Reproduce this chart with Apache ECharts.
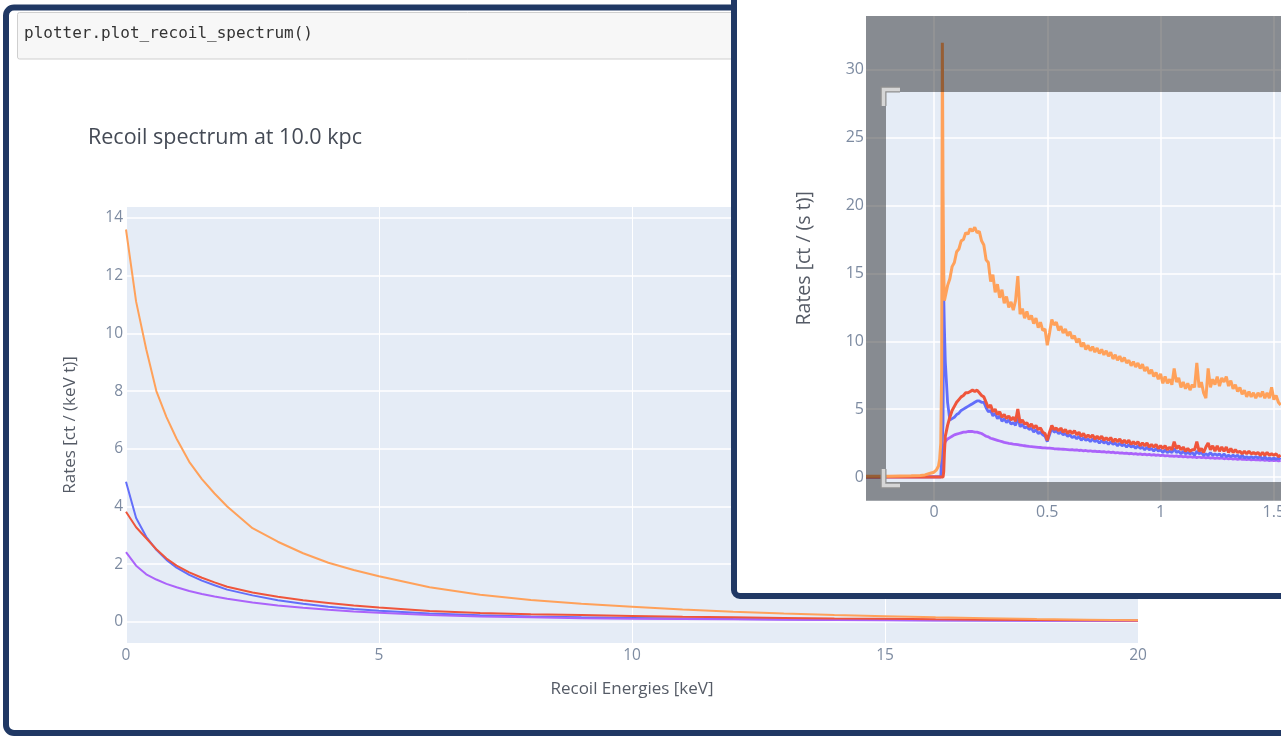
<!DOCTYPE html>
<html>
<head>
<meta charset="utf-8">
<script src="https://cdn.jsdelivr.net/npm/echarts@6/dist/echarts.min.js"></script>
<style>
html,body{margin:0;padding:0;background:#fff;}
#chart{width:1281px;height:736px;}
</style>
</head>
<body>
<div id="chart"></div>
<script>
// ---------- Main chart data (Recoil spectrum at 10.0 kpc) ----------
const mainX = [0,0.2,0.4,0.6,0.8,1,1.25,1.5,1.75,2,2.5,3,3.5,4,4.5,5,6,7,8,9,10,11,12,13,14,15,16,17,18,19,20];
const mainOrange = [13.6,11.1,9.45,8.0,7.1,6.35,5.55,4.95,4.45,4.0,3.25,2.78,2.38,2.05,1.8,1.58,1.2,0.94,0.76,0.63,0.53,0.43,0.35,0.29,0.24,0.2,0.16,0.13,0.1,0.08,0.06];
const mainRed = [3.82,3.28,2.9,2.52,2.2,1.95,1.72,1.53,1.37,1.22,1.02,0.87,0.75,0.66,0.57,0.5,0.38,0.31,0.27,0.24,0.21,0.18,0.16,0.14,0.12,0.11,0.09,0.08,0.07,0.06,0.05];
const mainBlue = [4.86,3.6,2.95,2.5,2.15,1.88,1.63,1.43,1.27,1.12,0.92,0.75,0.63,0.53,0.45,0.39,0.29,0.23,0.19,0.16,0.14,0.12,0.1,0.09,0.08,0.07,0.06,0.05,0.05,0.04,0.04];
const mainPurple = [2.42,1.95,1.65,1.47,1.32,1.2,1.07,0.97,0.88,0.8,0.67,0.57,0.49,0.42,0.36,0.32,0.24,0.19,0.16,0.13,0.11,0.1,0.09,0.08,0.07,0.06,0.05,0.05,0.04,0.04,0.03];
const mainYTicks = [0,2,4,6,8,10,12,14];
const mainXTicks = [0,5,10,15,20];

// ---------- Inset chart data (rates over time) ----------
const insetX = [-0.3,-0.2,-0.1,-0.06,-0.04,-0.02,0,0.01,0.02,0.025,0.03,0.034,0.037,0.04,0.043,0.046,
0.05,0.06,0.07,0.08,0.09,0.10,0.11,0.12,0.13,0.14,
0.15,0.16,0.17,0.18,0.19,0.20,0.21,0.22,0.23,0.24,
0.25,0.26,0.27,0.28,0.29,0.30,0.31,0.32,0.33,0.34,
0.35,0.36,0.37,0.38,0.39,0.40,0.41,0.42,0.43,0.44,
0.45,0.46,0.47,0.48,0.49,0.50,0.51,0.52,0.53,0.54,
0.55,0.56,0.57,0.58,0.59,0.60,0.61,0.62,0.63,0.64,
0.65,0.66,0.67,0.68,0.69,0.70,0.71,0.72,0.73,0.74,
0.75,0.76,0.77,0.78,0.79,0.80,0.81,0.82,0.83,0.84,
0.85,0.86,0.87,0.88,0.89,0.90,0.91,0.92,0.93,0.94,
0.95,0.96,0.97,0.98,0.99,1.00,1.01,1.02,1.03,1.04,
1.05,1.06,1.07,1.08,1.09,1.10,1.11,1.12,1.13,1.14,
1.15,1.16,1.17,1.18,1.19,1.20,1.21,1.22,1.23,1.24,
1.25,1.26,1.27,1.28,1.29,1.30,1.31,1.32,1.33,1.34,
1.35,1.36,1.37,1.38,1.39,1.40,1.41,1.42,1.43,1.44,
1.45,1.46,1.47,1.48,1.49,1.50,1.51,1.52,1.53];
const insetOrange = [0.05,0.05,0.08,0.1,0.15,0.25,0.35,0.5,0.8,1.3,2.5,8,32,21,15,13,
13.3,14.1,14.6,15.5,15.8,16.6,16.8,17.4,17.5,18.0,
17.9,18.3,18.1,18.4,18.0,18.1,17.4,17.1,16.0,15.8,
14.4,14.9,13.6,14.2,13.2,13.8,12.8,13.3,12.5,12.9,
12.3,13.0,14.8,12.0,12.4,11.7,12.2,11.6,11.9,11.3,
11.7,11.0,11.4,10.8,10.9,9.7,10.6,11.6,11.2,11.4,
10.8,11.1,10.6,10.9,10.4,10.7,10.2,10.4,9.9,10.2,
9.6,9.9,9.4,9.7,9.3,9.6,9.2,9.5,9.1,9.4,
9.0,9.3,8.9,9.2,8.7,9.0,8.6,8.9,8.5,8.8,
8.4,8.6,8.2,8.5,8.1,8.4,8.0,8.3,7.8,8.1,
7.6,7.9,7.4,7.7,7.2,7.6,6.9,7.4,6.9,7.2,
6.8,8.0,7.0,7.3,6.6,7.0,6.5,6.9,6.4,6.8,
6.6,8.4,6.6,7.0,6.2,5.8,8.0,6.6,7.2,6.8,
7.4,6.7,7.3,7.0,7.4,6.7,7.1,6.5,6.8,6.3,
6.6,6.1,6.4,5.9,6.3,5.9,6.2,5.8,6.2,5.9,
6.3,5.8,6.2,5.8,6.6,5.7,6.0,5.5,5.3];
const insetRed = [0,0,0,0,0,0,0,0,0,0,0,0,0,0,0.4,1.8,
3.0,3.8,4.4,4.9,5.2,5.5,5.7,5.9,6.0,6.2,
6.2,6.3,6.4,6.3,6.4,6.2,6.0,5.9,5.5,5.1,
5.3,4.8,5.0,4.6,4.8,4.4,4.6,4.3,4.5,4.2,
4.4,4.1,5.0,4.0,4.2,3.9,4.0,3.7,3.9,3.6,
3.8,3.5,3.6,3.3,3.2,2.7,3.3,3.8,3.5,3.6,
3.4,3.6,3.3,3.5,3.2,3.4,3.2,3.4,3.1,3.3,
3.0,3.2,2.9,3.1,2.9,3.1,2.8,3.0,2.8,3.0,
2.7,2.9,2.7,2.9,2.6,2.8,2.6,2.8,2.5,2.7,
2.5,2.7,2.4,2.6,2.4,2.6,2.3,2.5,2.3,2.5,
2.2,2.4,2.2,2.4,2.1,2.3,2.1,2.3,2.0,2.2,
2.0,2.6,2.1,2.3,2.0,2.2,1.9,2.1,1.9,2.0,
2.0,2.6,1.9,2.1,1.8,2.2,2.5,2.0,2.3,1.9,
2.3,1.9,2.2,1.9,2.2,1.8,2.1,1.8,2.0,1.8,
1.9,1.7,1.9,1.7,1.9,1.7,1.8,1.7,1.8,1.6,
1.8,1.6,1.8,1.6,1.7,1.6,1.7,1.5,1.6];
const insetBlue = [0,0,0,0,0,0,0,0,0,0,0,0,0,4,13.4,11,
8.5,5.5,4.2,4.3,4.4,4.6,4.7,4.9,5.0,5.1,
5.2,5.3,5.4,5.5,5.6,5.6,5.5,5.5,5.1,4.8,
4.9,4.5,4.7,4.3,4.5,4.1,4.3,4.0,4.2,3.9,
4.0,3.8,4.4,3.7,3.9,3.6,3.7,3.5,3.6,3.3,
3.5,3.2,3.3,3.1,3.0,2.6,3.1,3.6,3.3,3.4,
3.2,3.3,3.1,3.2,3.0,3.1,2.9,3.0,2.8,3.0,
2.7,2.9,2.7,2.8,2.6,2.8,2.6,2.7,2.5,2.7,
2.5,2.6,2.4,2.6,2.4,2.5,2.3,2.5,2.3,2.4,
2.2,2.4,2.2,2.3,2.1,2.3,2.1,2.2,2.0,2.2,
2.0,2.1,1.9,2.1,1.9,2.0,1.8,2.0,1.8,1.9,
1.8,2.1,1.8,1.9,1.7,1.9,1.7,1.8,1.7,1.8,
1.6,1.9,1.7,1.8,1.6,1.7,1.6,1.8,1.6,1.7,
1.6,1.7,1.5,1.7,1.5,1.6,1.5,1.6,1.5,1.6,
1.4,1.6,1.4,1.5,1.4,1.5,1.4,1.5,1.4,1.5,
1.3,1.5,1.3,1.4,1.3,1.4,1.3,1.4,1.3];
const insetPurple = [0,0,0,0,0,0,0,0,0,0,0,0,0,0.6,1.8,2.4,
2.6,2.8,2.9,3.0,3.1,3.15,3.2,3.25,3.3,3.3,
3.35,3.35,3.35,3.3,3.3,3.25,3.2,3.1,3.0,2.95,
2.85,2.8,2.75,2.7,2.65,2.6,2.55,2.52,2.48,2.45,
2.42,2.4,2.38,2.35,2.32,2.3,2.28,2.25,2.24,2.22,
2.2,2.18,2.17,2.15,2.14,2.12,2.12,2.1,2.08,2.07,
2.06,2.05,2.04,2.03,2.02,2.0,2.02,1.97,2.0,1.95,
1.97,1.92,1.95,1.9,1.93,1.88,1.91,1.86,1.89,1.84,
1.87,1.82,1.85,1.8,1.83,1.78,1.8,1.75,1.78,1.73,
1.76,1.71,1.74,1.69,1.72,1.67,1.7,1.65,1.68,1.63,
1.66,1.61,1.64,1.59,1.62,1.57,1.6,1.55,1.58,1.53,
1.56,1.52,1.55,1.5,1.53,1.48,1.51,1.46,1.5,1.45,
1.48,1.43,1.47,1.42,1.45,1.4,1.44,1.39,1.42,1.37,
1.41,1.36,1.4,1.34,1.38,1.33,1.37,1.32,1.35,1.3,
1.34,1.29,1.32,1.28,1.31,1.26,1.3,1.25,1.28,1.24,
1.27,1.22,1.26,1.21,1.24,1.2,1.23,1.19,1.21];
const insetYTicks = [0,5,10,15,20,25,30];
const insetXTicks = [0,0.5,1,1.5];

// ---------- Texts ----------
const codeText = 'plotter.plot_recoil_spectrum()';
const mainTitle = 'Recoil spectrum at 10.0 kpc';
const mainXName = 'Recoil Energies [keV]';
const mainYName = 'Rates [ct / (keV t)]';
const insetYName = 'Rates [ct / (s t)]';

// ---------- Styles ----------
const C_ORANGE = '#FFA15A', C_RED = '#EF553B', C_BLUE = '#636EFA', C_PURPLE = '#AB63FA';
const NAVY = '#203864';
const TICK = '#7d8ba1';
const FONT = '"Open Sans", "Noto Sans", sans-serif';

const pairs = (xs, ys) => xs.map((x, i) => [x, ys[i]]);

const chart = echarts.init(document.getElementById('chart'), null, {renderer: 'canvas'});

function lineSeries(name, xs, ys, color, axisIdx, z, width) {
  return {
    name, type: 'line', xAxisIndex: axisIdx, yAxisIndex: axisIdx,
    data: pairs(xs, ys), showSymbol: false, symbol: 'none', smooth: false,
    lineStyle: {color, width}, itemStyle: {color}, clip: true, z, silent: true,
    animation: false
  };
}

const option = {
  backgroundColor: '#ffffff',
  animation: false,
  grid: [
    {left: 126, top: 207, width: 1012, height: 436, show: true, backgroundColor: '#E5ECF6', borderWidth: 0, z: 0, outerBoundsMode: 'none', containLabel: false},
    {left: 866, top: 16, width: 498.5, height: 484.7, show: true, backgroundColor: '#E5ECF6', borderWidth: 0, z: 11, outerBoundsMode: 'none', containLabel: false}
  ],
  xAxis: [
    {type: 'value', gridIndex: 0, min: 0, max: 20, interval: 5,
     name: mainXName, nameLocation: 'middle', nameGap: 38,
     nameTextStyle: {color: '#555b66', fontSize: 17, fontFamily: FONT},
     axisLine: {show: false}, axisTick: {show: false},
     axisLabel: {color: TICK, fontSize: 15.5, fontFamily: FONT, margin: 5},
     splitLine: {show: true, lineStyle: {color: '#ffffff', width: 1}}, z: 1},
    {type: 'value', gridIndex: 1, min: -0.3, max: 1.9,
     axisLine: {show: false}, axisTick: {show: false, customValues: insetXTicks},
     axisLabel: {color: TICK, fontSize: 16, fontFamily: FONT, margin: 4, customValues: insetXTicks},
     splitLine: {show: true, lineStyle: {color: '#ffffff', width: 1.5}}, z: 12}
  ],
  yAxis: [
    {type: 'value', gridIndex: 0, min: -0.73, max: 14.38,
     name: mainYName, nameLocation: 'middle', nameRotate: 90, nameGap: 47,
     nameTextStyle: {color: '#555b66', fontSize: 17, fontFamily: FONT},
     axisLine: {show: false}, axisTick: {show: false, customValues: mainYTicks},
     axisLabel: {color: TICK, fontSize: 15.5, fontFamily: FONT, margin: 3, customValues: mainYTicks},
     splitLine: {show: true, lineStyle: {color: '#ffffff', width: 1.5}}, z: 1},
    {type: 'value', gridIndex: 1, min: -1.75, max: 33.97,
     name: insetYName, nameLocation: 'middle', nameRotate: 90, nameGap: 52,
     nameTextStyle: {color: '#555b66', fontSize: 19.5, fontFamily: FONT},
     axisLine: {show: false}, axisTick: {show: false, customValues: insetYTicks},
     axisLabel: {color: TICK, fontSize: 16, fontFamily: FONT, margin: 2, customValues: insetYTicks},
     splitLine: {show: true, lineStyle: {color: '#ffffff', width: 1.5}}, z: 12}
  ],
  series: [
    lineSeries('mainBlue', mainX, mainBlue, C_BLUE, 0, 2, 2),
    lineSeries('mainPurple', mainX, mainPurple, C_PURPLE, 0, 2, 2),
    lineSeries('mainRed', mainX, mainRed, C_RED, 0, 2, 2),
    lineSeries('mainOrange', mainX, mainOrange, C_ORANGE, 0, 2, 2),
    lineSeries('insetPurple', insetX, insetPurple, C_PURPLE, 1, 13, 2.8),
    lineSeries('insetBlue', insetX, insetBlue, C_BLUE, 1, 13, 2.8),
    lineSeries('insetRed', insetX, insetRed, C_RED, 1, 13, 3),
    lineSeries('insetOrange', insetX, insetOrange, C_ORANGE, 1, 13, 3)
  ],
  graphic: {
    elements: [
      // outer notebook frame
      {type: 'rect', z: 5, silent: true, shape: {x: 6, y: 7.5, width: 1400, height: 725.5, r: 8},
       style: {fill: 'none', stroke: NAVY, lineWidth: 6}},
      // code cell
      {type: 'rect', z: 5, silent: true, shape: {x: 17.5, y: 12.5, width: 900, height: 46.5, r: 2},
       style: {fill: '#f7f7f7', stroke: '#cfcfcf', lineWidth: 1}},
      {type: 'text', z: 6, silent: true, x: 24, y: 34,
       style: {text: codeText, fill: '#333333', font: '16px "DejaVu Sans Mono", monospace', textVerticalAlign: 'middle'}},
      // main title
      {type: 'text', z: 6, silent: true, x: 88, y: 138,
       style: {text: mainTitle, fill: '#444a55', font: '21.5px "Open Sans", sans-serif', textVerticalAlign: 'middle'}},
      // inset panel
      {type: 'rect', z: 10, silent: true, shape: {x: 734, y: -20, width: 600, height: 616, r: 6},
       style: {fill: '#ffffff', stroke: NAVY, lineWidth: 6}},
      // zoom-box shading of inset
      {type: 'rect', z: 20, silent: true, shape: {x: 866, y: 16, width: 420, height: 76},
       style: {fill: 'rgba(0,0,0,0.41)'}},
      {type: 'rect', z: 20, silent: true, shape: {x: 866, y: 92, width: 20, height: 390},
       style: {fill: 'rgba(0,0,0,0.41)'}},
      {type: 'rect', z: 20, silent: true, shape: {x: 866, y: 482, width: 420, height: 18.7},
       style: {fill: 'rgba(0,0,0,0.41)'}},
      // zoom-box corners
      {type: 'polyline', z: 21, silent: true, shape: {points: [[883.5, 106], [883.5, 89.5], [900, 89.5]]},
       style: {fill: 'none', stroke: '#8f8f8f', lineWidth: 6}},
      {type: 'polyline', z: 22, silent: true, shape: {points: [[883.5, 106], [883.5, 89.5], [900, 89.5]]},
       style: {fill: 'none', stroke: '#d6d6d6', lineWidth: 3.5}},
      {type: 'polyline', z: 21, silent: true, shape: {points: [[883.5, 469], [883.5, 485.5], [900, 485.5]]},
       style: {fill: 'none', stroke: '#8f8f8f', lineWidth: 6}},
      {type: 'polyline', z: 22, silent: true, shape: {points: [[883.5, 469], [883.5, 485.5], [900, 485.5]]},
       style: {fill: 'none', stroke: '#d6d6d6', lineWidth: 3.5}}
    ]
  }
};
chart.setOption(option);
</script>
</body>
</html>
